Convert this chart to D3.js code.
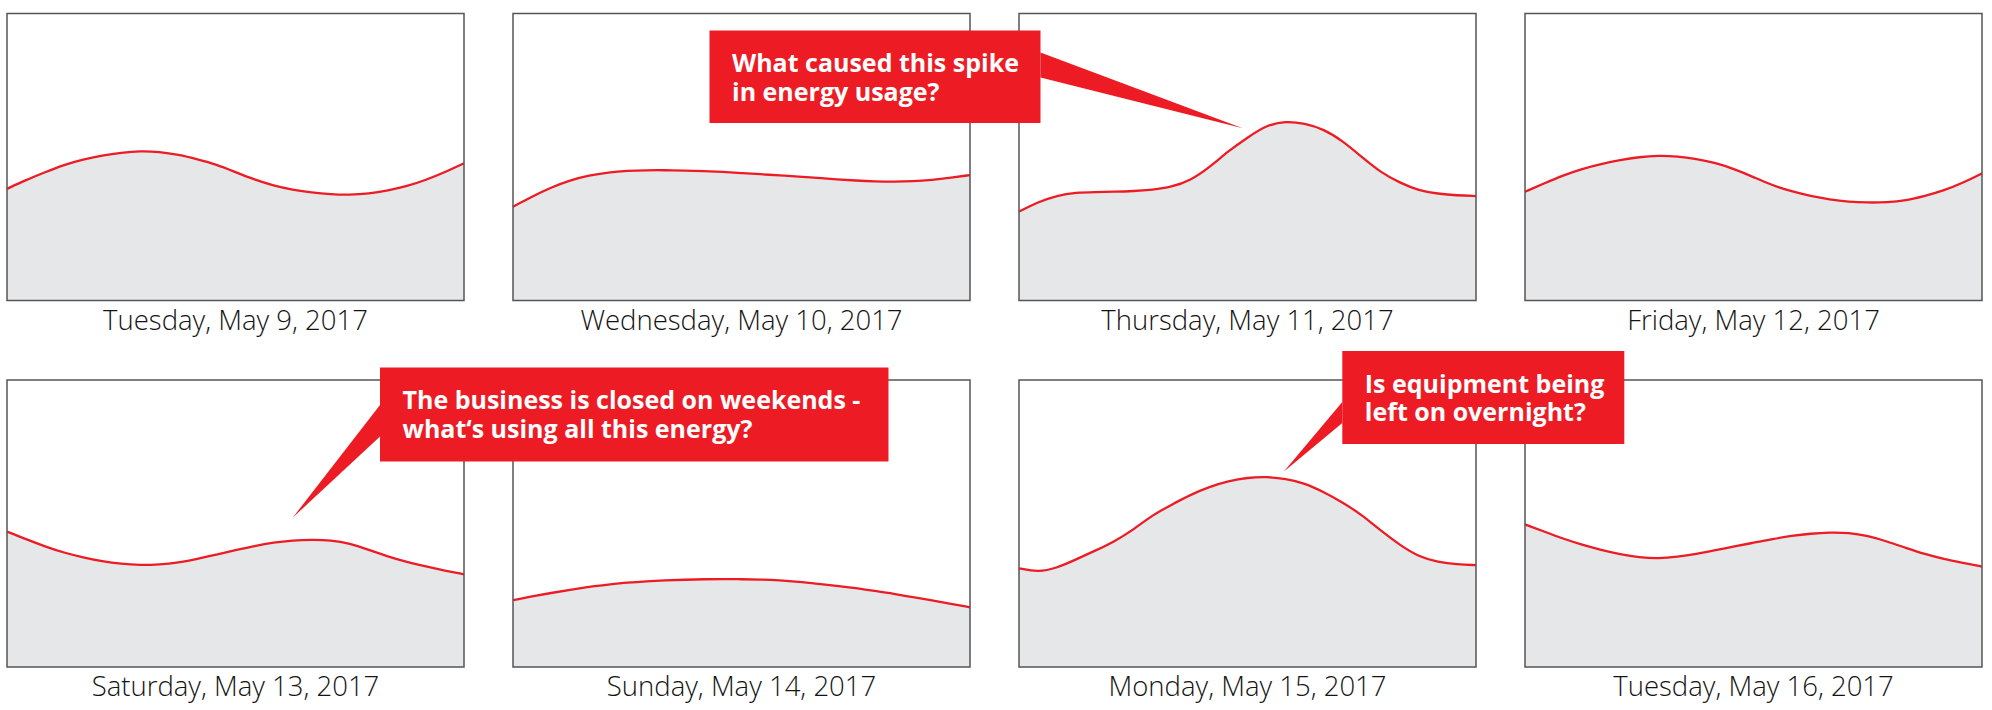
<!DOCTYPE html>
<html>
<head>
<meta charset="utf-8">
<script src="https://cdn.jsdelivr.net/npm/d3@7"></script>
<style>
  body { margin: 0; background: #fff; }
</style>
</head>
<body>
<script>
// Data: hourly energy use (kWh) for each day
const hours = d3.range(0, 25);

const dayLabels = [
  'Tuesday, May 9, 2017', 'Wednesday, May 10, 2017', 'Thursday, May 11, 2017', 'Friday, May 12, 2017',
  'Saturday, May 13, 2017', 'Sunday, May 14, 2017', 'Monday, May 15, 2017', 'Tuesday, May 16, 2017'
];

const may9  = [38.9,42.0,44.7,47.3,49.2,50.5,51.5,52.1,51.8,50.8,49.2,47.4,44.7,42.1,40.0,38.6,37.6,37.0,36.8,37.2,38.3,39.8,42.0,44.7,47.8];
const may10 = [32.7,36.2,39.4,41.9,43.6,44.6,45.2,45.4,45.4,45.3,45.1,44.8,44.4,44.0,43.6,43.2,42.7,42.2,41.8,41.5,41.4,41.5,42.0,42.8,43.7];
const may11 = [31.0,34.3,36.6,37.6,37.8,37.9,38.1,38.6,39.5,41.8,46.4,52.1,56.8,61.1,62.5,61.7,59.7,55.6,50.0,44.6,41.0,38.3,37.2,36.6,36.4];
const may12 = [37.9,40.8,43.6,45.9,47.6,49.0,50.0,50.5,50.2,49.3,48.0,45.8,43.0,40.1,38.0,36.4,35.2,34.4,34.1,34.2,34.8,36.4,38.3,41.0,44.3];
const may13 = [47.2,44.5,42.0,39.8,38.2,36.8,35.9,35.5,35.7,36.4,37.6,39.2,40.7,42.2,43.4,44.1,44.4,44.2,43.1,40.8,38.5,36.6,35.0,33.6,32.3];
const may14 = [23.3,24.6,25.8,26.9,28.0,28.7,29.4,29.9,30.2,30.4,30.6,30.6,30.6,30.5,30.2,29.7,29.0,28.3,27.5,26.5,25.5,24.3,23.2,22.0,20.8];
const may15 = [34.4,33.0,34.5,37.5,40.5,43.7,47.8,52.9,56.5,60.0,62.8,64.8,66.0,66.3,65.6,64.1,61.0,57.4,53.0,47.5,42.5,38.4,36.6,35.7,35.5];
const may16 = [49.7,47.2,44.7,42.6,40.8,39.3,38.2,37.8,38.4,39.4,40.7,42.0,43.3,44.6,45.7,46.5,46.9,46.8,45.7,43.8,41.5,39.3,37.6,36.3,35.0];

const days = [may9, may10, may11, may12, may13, may14, may15, may16];

// Callouts: text plus the day / hour / value the pointer aims at
const calloutText = [
  ['What caused this spike', 'in energy usage?'],
  ['The business is closed on weekends -', 'what\u2018s using all this energy?'],
  ['Is equipment being', 'left on overnight?']
];
const calloutTarget = [
  { day: 2, hour: 11.75, value: 60 },
  { day: 4, hour: 15.0, value: 52 },
  { day: 6, hour: 13.9, value: 68 }
];

// Layout
let
  width = 1992,
  height = 710;

let panel = {
  width: 457,
  height: 287,
  left: 7,
  stepX: 506,
  tops: [13.5, 380]
};

let red = '#ed1c24';

let svg = d3
  .select('body')
  .append('svg')
    .attr('width', width)
    .attr('height', height);

// Scales shared by every panel
let xScale = d3.scaleLinear()
  .domain([0, 24])
  .range([0, panel.width]);

let yScale = d3.scaleLinear()
  .domain([0, 100])
  .range([panel.height, 0]);

let area = d3.area()
  .x((d, i) => xScale(hours[i]))
  .y0(yScale(0))
  .y1(d => yScale(d))
  .curve(d3.curveBasis);

let line = d3.line()
  .x((d, i) => xScale(hours[i]))
  .y(d => yScale(d))
  .curve(d3.curveBasis);

function panelOrigin(i) {
  return [panel.left + (i % 4) * panel.stepX, panel.tops[Math.floor(i / 4)]];
}

//Draw panels
let panels = svg
  .selectAll('g.panel')
    .data(days)
  .enter()
  .append('g')
    .attr('class', 'panel')
    .attr('transform', (d, i) => `translate(${panelOrigin(i)})`);

panels
  .append('path')
    .attr('d', d => area(d))
    .attr('fill', '#e6e7e8');

panels
  .append('path')
    .attr('d', d => line(d))
    .attr('fill', 'none')
    .attr('stroke', red)
    .attr('stroke-width', 2.3);

panels
  .append('rect')
    .attr('width', panel.width)
    .attr('height', panel.height)
    .attr('fill', 'none')
    .attr('stroke', '#555')
    .attr('stroke-width', 1.5);

//Add labels
panels
  .append('text')
    .attr('x', panel.width / 2)
    .attr('y', panel.height + 29)
    .attr('text-anchor', 'middle')
    .style('font-family', '"Open Sans", sans-serif')
    .style('font-weight', 300)
    .style('font-size', '27.5px')
    .style('fill', '#141414')
    .text((d, i) => dayLabels[i]);

//Callouts
let boxes = [
  { x: 709.5, y: 30.5, w: 331, h: 92.5, side: 'right', base: [22, 47] },
  { x: 380, y: 367.5, w: 508.5, h: 94, side: 'left', base: [37.5, 69] },
  { x: 1342.3, y: 351, w: 282, h: 93, side: 'left', base: [51, 72] }
];

boxes.forEach(function(b, k) {
  let t = calloutTarget[k];
  let o = panelOrigin(t.day);
  let tip = [o[0] + xScale(t.hour), o[1] + yScale(t.value)];
  let edge = b.side === 'right' ? b.x + b.w : b.x;
  let g = svg.append('g');

  g.append('path')
    .attr('d', `M${edge},${b.y + b.base[0]}L${tip[0]},${tip[1]}L${edge},${b.y + b.base[1]}Z`)
    .attr('fill', red);

  g.append('rect')
    .attr('x', b.x)
    .attr('y', b.y)
    .attr('width', b.w)
    .attr('height', b.h)
    .attr('fill', red);

  g.selectAll('text')
    .data(calloutText[k])
  .enter()
  .append('text')
    .attr('x', b.x + 22.5)
    .attr('y', (d, i) => b.y + 41.5 + i * 28.8)
    .style('font-family', '"Open Sans", sans-serif')
    .style('font-weight', 'bold')
    .style('font-size', '25px')
    .style('fill', '#fff')
    .text(d => d);
});
</script>
</body>
</html>
